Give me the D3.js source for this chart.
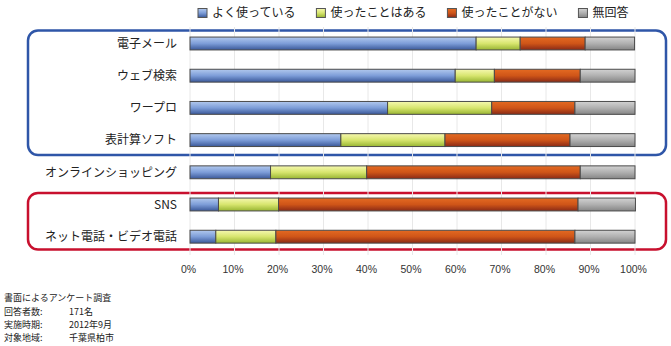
<!DOCTYPE html>
<html><head><meta charset="utf-8">
<script src="https://cdn.jsdelivr.net/npm/d3@7"></script>
<style>
html,body{margin:0;padding:0;background:#fff;}
svg{display:block;}
</style></head>
<body>
<svg id="chart" width="671" height="346"></svg>
<script>
const categories = ["電子メール","ウェブ検索","ワープロ","表計算ソフト","オンラインショッピング","SNS","ネット電話・ビデオ電話"];
const seriesNames = ["よく使っている","使ったことはある","使ったことがない","無回答"];
const oftenUse   = [64.3, 59.6, 44.4, 33.9, 18.1,  6.4,  5.8];
const usedBefore = [ 9.9,  8.8, 23.4, 23.4, 21.6, 13.5, 13.5];
const neverUsed  = [14.6, 19.3, 18.7, 28.1, 48.0, 67.3, 67.2];
const noAnswer   = [11.1, 12.3, 13.5, 14.6, 12.3, 12.9, 13.5];
const tickValues = [0,10,20,30,40,50,60,70,80,90,100];
const notes = [["書面によるアンケート調査",""],["回答者数:","171名"],["実施時期:","2012年9月"],["対象地域:","千葉県柏市"]];

const seriesValues = [oftenUse, usedBefore, neverUsed, noAnswer];
const gradStops = [
  ["#b2c9ee","#7d9dd8","#3a5899"],
  ["#f6f8b0","#d7e56e","#98b532"],
  ["#e46a22","#cf5518","#8a2a16"],
  ["#d2d2d2","#b0b0b0","#858585"]
];

const svg = d3.select("#chart");
const defs = svg.append("defs");
gradStops.forEach((s,i)=>{
  const g = defs.append("linearGradient").attr("id","g"+i).attr("x1",0).attr("y1",0).attr("x2",0).attr("y2",1);
  g.append("stop").attr("offset","0%").attr("stop-color",s[0]);
  g.append("stop").attr("offset","50%").attr("stop-color",s[1]);
  g.append("stop").attr("offset","100%").attr("stop-color",s[2]);
});

const x = d3.scaleLinear().domain([0,100]).range([190,635]);
const y = d3.scaleBand().domain(categories).range([27.4,252.8]).paddingInner(0.6).paddingOuter(0.3);

// highlight boxes
svg.append("rect").attr("x",28).attr("y",30.5).attr("width",638).attr("height",124.5)
  .attr("rx",10).attr("fill","none").attr("stroke","#2f56a8").attr("stroke-width",2.5);
svg.append("rect").attr("x",28).attr("y",193).attr("width",638).attr("height",56.5)
  .attr("rx",10).attr("fill","none").attr("stroke","#c8102e").attr("stroke-width",2.5);

// gridlines
svg.append("g").selectAll("line").data(tickValues).join("line")
  .attr("x1",d=>x(d)).attr("x2",d=>x(d)).attr("y1",27).attr("y2",255)
  .attr("stroke","#e8e8e8").attr("stroke-width",1);

// stacked bars
const rows = categories.map((c,i)=>{const o={cat:c}; seriesNames.forEach((s,j)=>o[s]=seriesValues[j][i]); return o;});
const stack = d3.stack().keys(seriesNames)(rows);
svg.append("g").selectAll("g").data(stack).join("g")
  .attr("fill",(d,i)=>`url(#g${i})`)
  .selectAll("rect").data(d=>d).join("rect")
  .attr("x",d=>x(d[0])).attr("width",d=>x(d[1])-x(d[0]))
  .attr("y",d=>y(d.data.cat)).attr("height",y.bandwidth())
  .attr("stroke","#4a4a4a").attr("stroke-width",1);

// category labels
svg.append("g").selectAll("text").data(categories).join("text")
  .attr("x",177).attr("y",d=>y(d)+y.bandwidth()/2).attr("dy","0.36em")
  .attr("text-anchor","end").attr("font-family","'Noto Sans CJK JP', sans-serif")
  .attr("font-size",12).attr("fill","#222").text(d=>d);

// x axis labels
const xAxis = d3.axisBottom(x).tickValues(tickValues).tickFormat(d=>d+"%").tickSize(0).tickPadding(0);
const ax = svg.append("g").attr("transform","translate(-2,266)").call(xAxis);
ax.select(".domain").remove();
ax.selectAll("text").attr("font-family","'Liberation Sans', Arial, sans-serif").attr("font-size",10.5).attr("fill","#333");

// legend
const lg = svg.append("g").attr("font-family","'Noto Sans CJK JP', sans-serif").attr("font-size",12);
let lx = 198;
seriesNames.forEach((s,i)=>{
  lg.append("rect").attr("x",lx).attr("y",8.5).attr("width",9).attr("height",9)
    .attr("fill",`url(#g${i})`).attr("stroke","#555").attr("stroke-width",1);
  const t = lg.append("text").attr("x",lx+14).attr("y",13).attr("dy","0.36em").attr("fill","#222").text(s);
  lx += 14 + t.node().getComputedTextLength() + 21;
});

// notes
const ng = svg.append("g").attr("font-family","'Noto Sans CJK JP', sans-serif").attr("font-size",9).attr("fill","#222");
notes.forEach((n,i)=>{
  ng.append("text").attr("x",4).attr("y",298+i*13.3).attr("dy","0.36em").text(n[0]);
  if(n[1]) ng.append("text").attr("x",69).attr("y",298+i*13.3).attr("dy","0.36em").text(n[1]);
});
</script>
</body></html>
